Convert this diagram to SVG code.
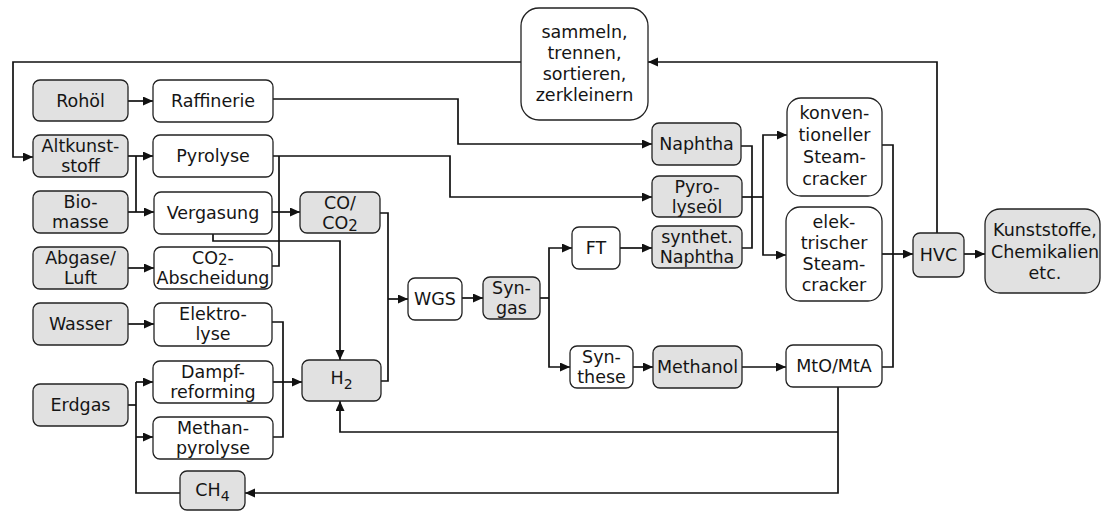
<svg xmlns="http://www.w3.org/2000/svg" width="1103" height="511" viewBox="0 0 1103 511">
  <style>
    .box { stroke: #222; stroke-width: 1.3; fill: #ffffff; }
    .grey { fill: #e1e1e1; }
    .lbl { font-family: "DejaVu Sans", "Liberation Sans", sans-serif; font-size: 17.5px; fill: #151515; text-anchor: middle; }
    .wire { fill: none; stroke: #111; stroke-width: 1.7; }
  </style>
  <defs>
    <marker id="arrow" markerUnits="userSpaceOnUse" markerWidth="11" markerHeight="10" refX="10" refY="4.5" orient="auto">
      <path d="M0,0 L10,4.5 L0,9 z" fill="#111"/>
    </marker>
  </defs>
  <rect width="1103" height="511" fill="#ffffff"/>

  <!-- connectors -->
  <g id="connectors" class="wire">
    <!-- recycling loop -->
    <path d="M521,62 H13 V157 H33" marker-end="url(#arrow)"/>
    <path d="M937,233 V62 H648" marker-end="url(#arrow)"/>
    <!-- feedstocks -->
    <path d="M128,101 H153" marker-end="url(#arrow)"/>
    <path d="M128,156 H153" marker-end="url(#arrow)"/>
    <path d="M136,156 V212"/>
    <path d="M128,212 H154" marker-end="url(#arrow)"/>
    <path d="M128,268 H154" marker-end="url(#arrow)"/>
    <path d="M128,324 H154" marker-end="url(#arrow)"/>
    <!-- refinery / pyrolysis products -->
    <path d="M273,99 H458 V144 H652" marker-end="url(#arrow)"/>
    <path d="M273,156 H450 V197 H652" marker-end="url(#arrow)"/>
    <!-- CO/CO2 collector -->
    <path d="M279,156 V266 H272"/>
    <path d="M272,212 H300" marker-end="url(#arrow)"/>
    <!-- Vergasung to H2 -->
    <path d="M213,234 V241 H340 V360" marker-end="url(#arrow)"/>
    <!-- H2 collector -->
    <path d="M272,322 H283 V437 H273"/>
    <path d="M273,382 H283"/>
    <path d="M283,382 H302" marker-end="url(#arrow)"/>
    <!-- Erdgas / CH4 -->
    <path d="M128,405 H136"/>
    <path d="M180,493 H136 V382"/>
    <path d="M136,382 H153" marker-end="url(#arrow)"/>
    <path d="M136,437 H153" marker-end="url(#arrow)"/>
    <!-- MtO/MtA recycles -->
    <path d="M838,387 V493 H245" marker-end="url(#arrow)"/>
    <path d="M838,432 H340 V401" marker-end="url(#arrow)"/>
    <!-- WGS -->
    <path d="M380,213 H388 V381 H381"/>
    <path d="M388,299 H408" marker-end="url(#arrow)"/>
    <path d="M462,298 H483" marker-end="url(#arrow)"/>
    <!-- Syngas split -->
    <path d="M540,298 H549"/>
    <path d="M549,298 V248 H572" marker-end="url(#arrow)"/>
    <path d="M549,298 V367 H570" marker-end="url(#arrow)"/>
    <path d="M620,248 H652" marker-end="url(#arrow)"/>
    <path d="M633,367 H653" marker-end="url(#arrow)"/>
    <path d="M742,367 H786" marker-end="url(#arrow)"/>
    <!-- naphtha feeds to crackers -->
    <path d="M741,146 H752 V248 H742"/>
    <path d="M742,197 H763"/>
    <path d="M763,197 V135 H787" marker-end="url(#arrow)"/>
    <path d="M763,197 V255 H786" marker-end="url(#arrow)"/>
    <!-- HVC collector -->
    <path d="M882,145 H893 V367 H882"/>
    <path d="M882,254 H913" marker-end="url(#arrow)"/>
    <path d="M964,254 H985" marker-end="url(#arrow)"/>
  </g>

  <!-- nodes -->
  <g id="sammeln">
    <rect class="box" x="521" y="8" width="127" height="112" rx="18"/>
    <text class="lbl" x="584.5" y="38">sammeln,</text>
    <text class="lbl" x="584.5" y="59">trennen,</text>
    <text class="lbl" x="584.5" y="80">sortieren,</text>
    <text class="lbl" x="584.5" y="101">zerkleinern</text>
  </g>
  <g id="rohoel">
    <rect class="box grey" x="33" y="80" width="95" height="41" rx="7"/>
    <text class="lbl" x="80.5" y="107">Rohöl</text>
  </g>
  <g id="raffinerie">
    <rect class="box" x="153" y="80" width="120" height="42" rx="7"/>
    <text class="lbl" x="213" y="107">Raffinerie</text>
  </g>
  <g id="altkunststoff">
    <rect class="box grey" x="33" y="135" width="95" height="42" rx="7"/>
    <text class="lbl" x="80.5" y="152">Altkunst-</text>
    <text class="lbl" x="80.5" y="172">stoff</text>
  </g>
  <g id="pyrolyse">
    <rect class="box" x="153" y="135" width="120" height="42" rx="7"/>
    <text class="lbl" x="213" y="162">Pyrolyse</text>
  </g>
  <g id="biomasse">
    <rect class="box grey" x="33" y="191" width="95" height="42" rx="7"/>
    <text class="lbl" x="80.5" y="208">Bio-</text>
    <text class="lbl" x="80.5" y="228">masse</text>
  </g>
  <g id="vergasung">
    <rect class="box" x="154" y="192" width="118" height="42" rx="7"/>
    <text class="lbl" x="213" y="219">Vergasung</text>
  </g>
  <g id="abgase">
    <rect class="box grey" x="33" y="247" width="95" height="42" rx="7"/>
    <text class="lbl" x="80.5" y="264">Abgase/</text>
    <text class="lbl" x="80.5" y="284">Luft</text>
  </g>
  <g id="co2-abscheidung">
    <rect class="box" x="154" y="247" width="118" height="42" rx="7"/>
    <text class="lbl" x="213" y="264">CO<tspan font-size="15" dy="1">2</tspan><tspan dy="-1">-</tspan></text>
    <text class="lbl" x="213" y="284">Abscheidung</text>
  </g>
  <g id="wasser">
    <rect class="box grey" x="33" y="303" width="95" height="42" rx="7"/>
    <text class="lbl" x="80.5" y="330">Wasser</text>
  </g>
  <g id="elektrolyse">
    <rect class="box" x="154" y="303" width="118" height="43" rx="7"/>
    <text class="lbl" x="213" y="320">Elektro-</text>
    <text class="lbl" x="213" y="340">lyse</text>
  </g>
  <g id="erdgas">
    <rect class="box grey" x="33" y="384" width="95" height="42" rx="7"/>
    <text class="lbl" x="80.5" y="411">Erdgas</text>
  </g>
  <g id="dampfreforming">
    <rect class="box" x="153" y="361" width="120" height="42" rx="7"/>
    <text class="lbl" x="213" y="378">Dampf-</text>
    <text class="lbl" x="213" y="398">reforming</text>
  </g>
  <g id="methanpyrolyse">
    <rect class="box" x="153" y="417" width="120" height="42" rx="7"/>
    <text class="lbl" x="213" y="434">Methan-</text>
    <text class="lbl" x="213" y="454">pyrolyse</text>
  </g>
  <g id="ch4">
    <rect class="box grey" x="180" y="471" width="65" height="39" rx="7"/>
    <text class="lbl" x="212.5" y="496">CH<tspan font-size="14" dy="5">4</tspan></text>
  </g>
  <g id="co-co2">
    <rect class="box grey" x="300" y="192" width="80" height="41" rx="7"/>
    <text class="lbl" x="340" y="209">CO/</text>
    <text class="lbl" x="340" y="229">CO<tspan font-size="15" dy="2">2</tspan></text>
  </g>
  <g id="h2">
    <rect class="box grey" x="302" y="360" width="79" height="41" rx="7"/>
    <text class="lbl" x="341.5" y="384">H<tspan font-size="14" dy="5">2</tspan></text>
  </g>
  <g id="wgs">
    <rect class="box" x="408" y="278" width="54" height="42" rx="7"/>
    <text class="lbl" x="435" y="305">WGS</text>
  </g>
  <g id="syngas">
    <rect class="box grey" x="483" y="277" width="57" height="42" rx="7"/>
    <text class="lbl" x="511.5" y="294">Syn-</text>
    <text class="lbl" x="511.5" y="314">gas</text>
  </g>
  <g id="ft">
    <rect class="box" x="572" y="227" width="48" height="42" rx="7"/>
    <text class="lbl" x="596" y="254">FT</text>
  </g>
  <g id="synthese">
    <rect class="box" x="570" y="346" width="63" height="42" rx="7"/>
    <text class="lbl" x="601.5" y="363">Syn-</text>
    <text class="lbl" x="601.5" y="383">these</text>
  </g>
  <g id="naphtha">
    <rect class="box grey" x="652" y="123" width="89" height="42" rx="7"/>
    <text class="lbl" x="696.5" y="150">Naphtha</text>
  </g>
  <g id="pyrolyseoel">
    <rect class="box grey" x="652" y="176" width="90" height="41" rx="7"/>
    <text class="lbl" x="697" y="193">Pyro-</text>
    <text class="lbl" x="697" y="213">lyseöl</text>
  </g>
  <g id="synthet-naphtha">
    <rect class="box grey" x="652" y="226" width="90" height="42" rx="7"/>
    <text class="lbl" x="697" y="243">synthet.</text>
    <text class="lbl" x="697" y="263">Naphtha</text>
  </g>
  <g id="methanol">
    <rect class="box grey" x="653" y="346" width="89" height="42" rx="7"/>
    <text class="lbl" x="697.5" y="373">Methanol</text>
  </g>
  <g id="konv-steamcracker">
    <rect class="box" x="787" y="98" width="95" height="98" rx="14"/>
    <text class="lbl" x="834.5" y="119">konven-</text>
    <text class="lbl" x="834.5" y="141">tioneller</text>
    <text class="lbl" x="834.5" y="163">Steam-</text>
    <text class="lbl" x="834.5" y="185">cracker</text>
  </g>
  <g id="elek-steamcracker">
    <rect class="box" x="786" y="207" width="96" height="94" rx="14"/>
    <text class="lbl" x="834" y="228">elek-</text>
    <text class="lbl" x="834" y="249">trischer</text>
    <text class="lbl" x="834" y="270">Steam-</text>
    <text class="lbl" x="834" y="291">cracker</text>
  </g>
  <g id="mto-mta">
    <rect class="box" x="786" y="345" width="96" height="42" rx="7"/>
    <text class="lbl" x="834" y="372">MtO/MtA</text>
  </g>
  <g id="hvc">
    <rect class="box grey" x="913" y="233" width="51" height="44" rx="7"/>
    <text class="lbl" x="938.5" y="261">HVC</text>
  </g>
  <g id="kunststoffe">
    <rect class="box grey" x="985" y="209" width="115" height="84" rx="15"/>
    <text class="lbl" x="1045" y="236">Kunststoffe,</text>
    <text class="lbl" x="1045" y="258">Chemikalien</text>
    <text class="lbl" x="1045" y="279">etc.</text>
  </g>
</svg>
